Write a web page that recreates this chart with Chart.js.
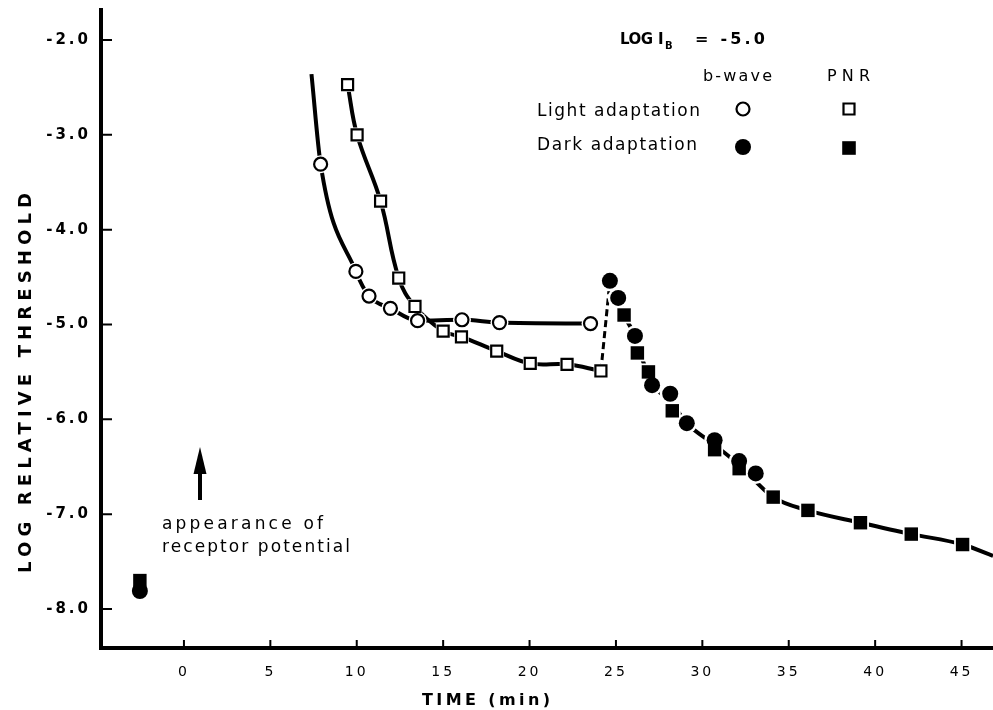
<!DOCTYPE html>
<html>
<head>
<meta charset="utf-8">
<title>Threshold during light and dark adaptation</title>
<script src="https://cdn.jsdelivr.net/npm/chart.js@4.4.1/dist/chart.umd.min.js"></script>
<style>
  html, body { margin: 0; padding: 0; background: #fff; }
</style>
</head>
<body>
<canvas id="chart" width="993" height="710"></canvas>
<script>
// values: time (min) and log relative threshold
const lightBwaveTime = [7.91, 9.95, 10.71, 11.95, 13.52, 16.09, 18.26, 23.53];
const lightBwaveLog  = [-3.31, -4.44, -4.70, -4.83, -4.96, -4.95, -4.98, -4.99];

const lightPnrTime = [9.47, 10.02, 11.38, 12.43, 13.37, 15.00, 16.06, 18.10, 20.04, 22.17, 24.13];
const lightPnrLog  = [-2.47, -3.00, -3.70, -4.51, -4.81, -5.07, -5.13, -5.28, -5.41, -5.42, -5.49];

const darkBwaveTime = [-2.55, 24.65, 25.13, 26.10, 27.09, 28.14, 29.10, 30.71, 32.13, 33.09];
const darkBwaveLog  = [-7.81, -4.54, -4.72, -5.12, -5.64, -5.73, -6.04, -6.22, -6.44, -6.57];

const darkPnrTime = [-2.55, 25.47, 26.24, 26.88, 28.26, 30.71, 32.13, 34.10, 36.11, 39.15, 42.09, 45.06];
const darkPnrLog  = [-7.70, -4.90, -5.30, -5.50, -5.91, -6.32, -6.52, -6.82, -6.96, -7.09, -7.21, -7.32];

// hand drawn curves through the points
const lightBwaveFitTime = [7.38, 7.91, 9.95, 10.71, 11.95, 13.52, 16.09, 18.26, 23.53];
const lightBwaveFitLog  = [-2.36, -3.31, -4.44, -4.70, -4.83, -4.96, -4.95, -4.98, -4.99];
const darkFitTime = [24.65, 25.13, 25.47, 26.10, 26.55, 27.09, 28.20, 29.10, 30.71, 32.13, 34.10, 36.11, 39.15, 42.09, 45.06, 46.82];
const darkFitLog  = [-4.54, -4.72, -4.90, -5.12, -5.38, -5.62, -5.82, -6.04, -6.27, -6.48, -6.82, -6.96, -7.09, -7.21, -7.32, -7.44];

const xTicks = [0, 5, 10, 15, 20, 25, 30, 35, 40, 45];
const yTicks = [-2, -3, -4, -5, -6, -7, -8];

const FONT = '"DejaVu Sans", sans-serif';

function pts(ts, vs) {
    return ts.map((t, i) => ({ x: t, y: vs[i] }));
}

// dashed jump from the last light-adapted PNR point to the dark-adapted peak
const jump = [
    { x: lightPnrTime[lightPnrTime.length - 1], y: lightPnrLog[lightPnrLog.length - 1] },
    { x: darkFitTime[0], y: darkFitLog[0] }
];

const curve = (data, extra) => Object.assign({
    data: data,
    showLine: true,
    borderColor: '#000',
    borderWidth: 4,
    pointRadius: 0,
    cubicInterpolationMode: 'monotone',
    order: 3
}, extra || {});

const marks = (data, style, radius, filled) => ({
    data: data,
    showLine: false,
    pointStyle: style,
    pointRadius: radius,
    pointBackgroundColor: filled ? '#000' : '#fff',
    pointBorderColor: '#000',
    pointBorderWidth: filled ? 0 : 2.2,
    order: 1
});

// white ring under each marker, so the curve stops short of it
const halo = (data, style, radius) => ({
    data: data,
    showLine: false,
    pointStyle: style,
    pointRadius: radius + 2.5,
    pointBackgroundColor: '#fff',
    pointBorderColor: '#fff',
    pointBorderWidth: 0,
    order: 2
});

function spacedText(ctx, text, x, y, width, font, align) {
    ctx.save();
    ctx.font = font;
    ctx.letterSpacing = '0px';
    const w0 = ctx.measureText(text).width;
    const gap = text.length > 1 ? (width - w0) / (text.length - 1) : 0;
    ctx.letterSpacing = gap + 'px';
    ctx.textAlign = 'left';
    ctx.textBaseline = 'middle';
    ctx.fillStyle = '#000';
    let left = x;
    if (align === 'center') left = x - width / 2;
    if (align === 'right') left = x - width;
    ctx.fillText(text, left, y);
    ctx.restore();
}

function symbol(ctx, style, x, y, size, filled) {
    ctx.save();
    ctx.fillStyle = filled ? '#000' : '#fff';
    ctx.strokeStyle = '#000';
    ctx.lineWidth = 2.2;
    ctx.beginPath();
    if (style === 'circle') ctx.arc(x, y, size, 0, Math.PI * 2);
    else ctx.rect(x - size, y - size, size * 2, size * 2);
    ctx.fill();
    if (!filled) ctx.stroke();
    ctx.restore();
}

const decorations = {
    id: 'decorations',
    beforeDraw(chart) {
        chart.ctx.letterSpacing = '3px';
    },
    afterDraw(chart) {
        const { ctx, chartArea } = chart;
        const xs = chart.scales.x, ys = chart.scales.y;

        // inward tick marks
        ctx.save();
        ctx.letterSpacing = '0px';
        ctx.strokeStyle = '#000';
        ctx.lineWidth = 2;
        ctx.beginPath();
        xTicks.forEach(t => {
            const px = xs.getPixelForValue(t);
            ctx.moveTo(px, chartArea.bottom);
            ctx.lineTo(px, chartArea.bottom - 8);
        });
        yTicks.forEach(v => {
            const py = ys.getPixelForValue(v);
            ctx.moveTo(chartArea.left, py);
            ctx.lineTo(chartArea.left + 11, py);
        });
        ctx.stroke();
        ctx.restore();

        // axis titles
        ctx.save();
        ctx.translate(26, 383);
        ctx.rotate(-Math.PI / 2);
        spacedText(ctx, 'LOG RELATIVE THRESHOLD', 0, 0, 380, 'bold 18px ' + FONT, 'center');
        ctx.restore();
        spacedText(ctx, 'TIME (min)', 422, 701, 128, 'bold 16px ' + FONT, 'left');

        // key
        spacedText(ctx, 'LOG', 620, 40, 33, 'bold 15px ' + FONT, 'left');
        spacedText(ctx, 'I', 658, 40, 6, 'bold 15px ' + FONT, 'left');
        spacedText(ctx, 'B', 665, 46, 8, 'bold 10px ' + FONT, 'left');
        spacedText(ctx, '= -5.0', 695, 40, 70, 'bold 16px ' + FONT, 'left');
        spacedText(ctx, 'b-wave', 703, 77, 69, '16px ' + FONT, 'left');
        spacedText(ctx, 'PNR', 827, 77, 43, '16px ' + FONT, 'left');
        spacedText(ctx, 'Light adaptation', 537, 112, 163, '17px ' + FONT, 'left');
        spacedText(ctx, 'Dark adaptation', 537, 146, 160, '17px ' + FONT, 'left');
        symbol(ctx, 'circle', 743, 109, 6.5, false);
        symbol(ctx, 'rect', 849, 109, 5.5, false);
        symbol(ctx, 'circle', 743, 147, 8, true);
        symbol(ctx, 'rect', 849, 148, 6.8, true);

        // arrow and note
        ctx.save();
        ctx.fillStyle = '#000';
        ctx.fillRect(198, 470, 4, 30);
        ctx.beginPath();
        ctx.moveTo(200, 447);
        ctx.lineTo(206.5, 474);
        ctx.lineTo(193.5, 474);
        ctx.closePath();
        ctx.fill();
        ctx.restore();
        spacedText(ctx, 'appearance of', 162, 525, 161, '17px ' + FONT, 'left');
        spacedText(ctx, 'receptor potential', 162, 548, 188, '17px ' + FONT, 'left');
    }
};

new Chart(document.getElementById('chart'), {
    type: 'scatter',
    data: {
        datasets: [
            curve(pts(lightBwaveFitTime, lightBwaveFitLog)),
            curve(pts(lightPnrTime, lightPnrLog), { cubicInterpolationMode: 'default', tension: 0.4 }),
            curve(pts(darkFitTime, darkFitLog)),
            curve(jump, { borderWidth: 3, borderDash: [7, 4], cubicInterpolationMode: 'default', tension: 0 }),
            halo(pts(lightBwaveTime, lightBwaveLog), 'circle', 6.5),
            halo(pts(lightPnrTime, lightPnrLog), 'rect', 7.8),
            halo(pts(darkBwaveTime, darkBwaveLog), 'circle', 8),
            halo(pts(darkPnrTime, darkPnrLog), 'rect', 9.5),
            marks(pts(lightBwaveTime, lightBwaveLog), 'circle', 6.5, false),
            marks(pts(lightPnrTime, lightPnrLog), 'rect', 7.8, false),
            marks(pts(darkBwaveTime, darkBwaveLog), 'circle', 8, true),
            marks(pts(darkPnrTime, darkPnrLog), 'rect', 9.5, true)
        ]
    },
    options: {
        responsive: false,
        animation: false,
        events: [],
        layout: { autoPadding: false, padding: { top: 10, right: 0, left: 0, bottom: 0 } },
        plugins: { legend: { display: false }, tooltip: { enabled: false } },
        scales: {
            x: {
                type: 'linear',
                min: -4.8,
                max: 46.82,
                afterFit: s => { s.height = 62; s.paddingLeft = 0; s.paddingRight = 0; },
                afterBuildTicks: s => { s.ticks = xTicks.map(v => ({ value: v })); },
                border: { display: true, color: '#000', width: 4 },
                grid: { display: false, drawTicks: false },
                ticks: {
                    color: '#000',
                    padding: 16,
                    maxRotation: 0,
                    autoSkip: false,
                    font: { family: FONT, size: 14 }
                }
            },
            y: {
                type: 'linear',
                min: -8.411,
                max: -1.684,
                afterFit: s => { s.width = 101; s.paddingTop = 0; s.paddingBottom = 0; },
                afterBuildTicks: s => { s.ticks = yTicks.map(v => ({ value: v })); },
                border: { display: true, color: '#000', width: 4 },
                grid: { display: false, drawTicks: false },
                ticks: {
                    color: '#000',
                    padding: 10,
                    callback: v => v.toFixed(1),
                    font: { family: FONT, size: 15, weight: 'bold' }
                }
            }
        }
    },
    plugins: [decorations]
});
</script>
</body>
</html>
